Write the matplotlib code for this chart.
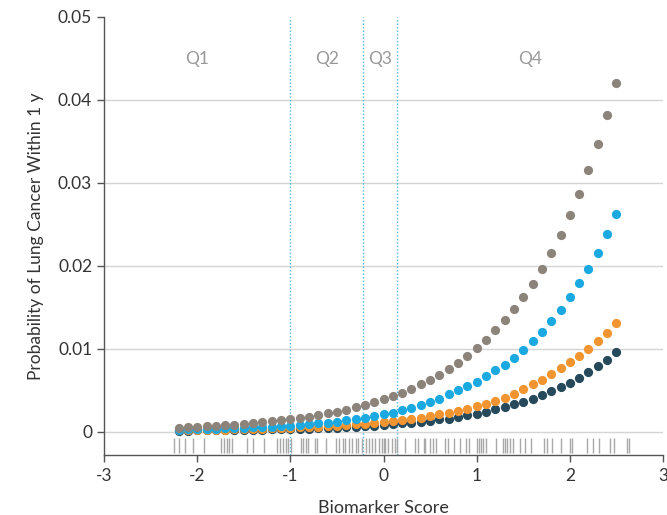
import matplotlib
matplotlib.use("Agg")
import matplotlib.pyplot as plt

plt.rcParams["font.family"] = ["Lato", "DejaVu Sans"]

# Biomarker score grid (x) and predicted 1-year probabilities per group
score = [-2.2, -2.1, -2.0, -1.9, -1.8, -1.7, -1.6, -1.5, -1.4, -1.3, -1.2, -1.1,
         -1.0, -0.9, -0.8, -0.7, -0.6, -0.5, -0.4, -0.3, -0.2, -0.1, 0.0, 0.1,
         0.2, 0.3, 0.4, 0.5, 0.6, 0.7, 0.8, 0.9, 1.0, 1.1, 1.2, 1.3, 1.4, 1.5,
         1.6, 1.7, 1.8, 1.9, 2.0, 2.1, 2.2, 2.3, 2.4, 2.5]

prob_grey = [0.00048, 0.00053, 0.00059, 0.00064, 0.00071, 0.00078, 0.00086, 0.00094,
             0.00103, 0.00114, 0.00125, 0.00137, 0.00151, 0.00166, 0.00182, 0.00201,
             0.00221, 0.00243, 0.00267, 0.00293, 0.00323, 0.00355, 0.00390, 0.00429,
             0.00472, 0.00519, 0.00571, 0.00628, 0.00690, 0.00759, 0.00835, 0.00918,
             0.01010, 0.01110, 0.01221, 0.01343, 0.01477, 0.01624, 0.01786, 0.01964,
             0.02160, 0.02375, 0.02612, 0.02872, 0.03158, 0.03473, 0.03819, 0.04200]

prob_blue = [0.00026, 0.00028, 0.00031, 0.00034, 0.00037, 0.00040, 0.00044, 0.00048,
             0.00052, 0.00057, 0.00062, 0.00068, 0.00075, 0.00082, 0.00090, 0.00100,
             0.00110, 0.00120, 0.00140, 0.00150, 0.00170, 0.00190, 0.00210, 0.00230,
             0.00260, 0.00290, 0.00320, 0.00360, 0.00400, 0.00450, 0.00500, 0.00550,
             0.00600, 0.00670, 0.00740, 0.00810, 0.00890, 0.00980, 0.01090, 0.01200,
             0.01330, 0.01470, 0.01630, 0.01790, 0.01960, 0.02160, 0.02380, 0.02630]

prob_orange = [0.00018, 0.00020, 0.00021, 0.00023, 0.00025, 0.00027, 0.00029, 0.00031,
               0.00034, 0.00037, 0.00040, 0.00044, 0.00048, 0.00052, 0.00057, 0.00062,
               0.00068, 0.00074, 0.00081, 0.00089, 0.00098, 0.00108, 0.00120, 0.00130,
               0.00140, 0.00150, 0.00170, 0.00190, 0.00210, 0.00230, 0.00250, 0.00280,
               0.00310, 0.00340, 0.00370, 0.00410, 0.00450, 0.00510, 0.00570, 0.00630,
               0.00700, 0.00770, 0.00840, 0.00910, 0.01000, 0.01090, 0.01190, 0.01310]

prob_dark = [0.00014, 0.00015, 0.00016, 0.00017, 0.00018, 0.00019, 0.00021, 0.00022,
             0.00024, 0.00026, 0.00028, 0.00030, 0.00033, 0.00036, 0.00039, 0.00042,
             0.00046, 0.00050, 0.00055, 0.00061, 0.00067, 0.00074, 0.00082, 0.00090,
             0.00100, 0.00110, 0.00120, 0.00130, 0.00150, 0.00160, 0.00180, 0.00200,
             0.00220, 0.00240, 0.00270, 0.00300, 0.00330, 0.00360, 0.00400, 0.00440,
             0.00490, 0.00540, 0.00590, 0.00650, 0.00720, 0.00790, 0.00870, 0.00960]

# Observed biomarker scores (rug)
rug_scores = [-2.25, -2.20, -2.13, -2.04, -1.93, -1.74, -1.71, -1.68, -1.66, -1.63,
              -1.47, -1.40, -1.28, -1.14, -1.11, -1.08, -1.05, -1.03, -0.99, -0.89,
              -0.86, -0.83, -0.81, -0.74, -0.71, -0.62, -0.51, -0.48, -0.44, -0.41,
              -0.37, -0.34, -0.30, -0.27, -0.23, -0.19, -0.16, -0.12, -0.09, -0.05,
              -0.02, 0.00, 0.02, 0.05, 0.09, 0.12, 0.14, 0.23, 0.34, 0.37, 0.43, 0.45,
              0.50, 0.53, 0.56, 0.66, 0.69, 0.76, 0.82, 0.88, 0.92, 1.00, 1.03, 1.05,
              1.07, 1.10, 1.21, 1.28, 1.30, 1.33, 1.36, 1.39, 1.47, 1.52, 1.58, 1.72,
              1.76, 1.81, 1.90, 2.00, 2.02, 2.18, 2.25, 2.31, 2.43, 2.47, 2.61, 2.64]

# Quartile cut points and labels
quartile_cuts = [-1.0, -0.22, 0.14]
quartile_labels = ["Q1", "Q2", "Q3", "Q4"]

y_ticks = [0, 0.01, 0.02, 0.03, 0.04, 0.05]
y_ticklabels = ["0", "0.01", "0.02", "0.03", "0.04", "0.05"]
x_ticks = [-3, -2, -1, 0, 1, 2, 3]

fig = plt.figure(figsize=(6.67, 5.15), dpi=100)
ax = fig.add_axes([0.156, 0.1165, 0.838, 0.8505])

xmin, xmax = -3, 3
ymin, ymax = -0.0028, 0.05

for yt in y_ticks[:-1]:
    ax.axhline(yt, color="#d4d4d4", lw=1.0, zorder=0)

for c in quartile_cuts:
    ax.axvline(c, color="#4fb8e6", lw=1.0, ls=(0, (1, 1.5)), zorder=1)

bounds = [xmin] + quartile_cuts + [xmax]
for i, lab in enumerate(quartile_labels):
    ax.text((bounds[i] + bounds[i + 1]) / 2, 0.0449, lab, ha="center", va="center",
            color="#999999", fontsize=12.5)

ax.vlines(rug_scores, -0.0025, -0.0008, color="#a8a8a8", lw=1.0, zorder=1)

ax.scatter(score, prob_dark, s=44, color="#264a5b", lw=0, zorder=3)
ax.scatter(score, prob_orange, s=44, color="#f29530", lw=0, zorder=4)
ax.scatter(score, prob_blue, s=44, color="#1ba9e1", lw=0, zorder=5)
ax.scatter(score, prob_grey, s=44, color="#8c847b", lw=0, zorder=6)

ax.set_xlim(xmin, xmax)
ax.set_ylim(ymin, ymax)
ax.set_xticks(x_ticks)
ax.set_xticklabels([str(t) for t in x_ticks])
ax.set_yticks(y_ticks)
ax.set_yticklabels(y_ticklabels)

for side in ["top", "right"]:
    ax.spines[side].set_visible(False)
for side in ["left", "bottom"]:
    ax.spines[side].set_color("#555555")
    ax.spines[side].set_linewidth(1.0)

ax.tick_params(axis="both", colors="#555555", length=5, width=1.0, labelsize=12.5,
               labelcolor="#333333")
ax.tick_params(axis="x", pad=4)

ax.set_xlabel("Biomarker Score", fontsize=13, color="#333333", labelpad=12)
ax.set_ylabel("Probability of Lung Cancer Within 1 y", fontsize=12.5, color="#333333",
              labelpad=10)

fig.savefig("out.png", dpi=100)
